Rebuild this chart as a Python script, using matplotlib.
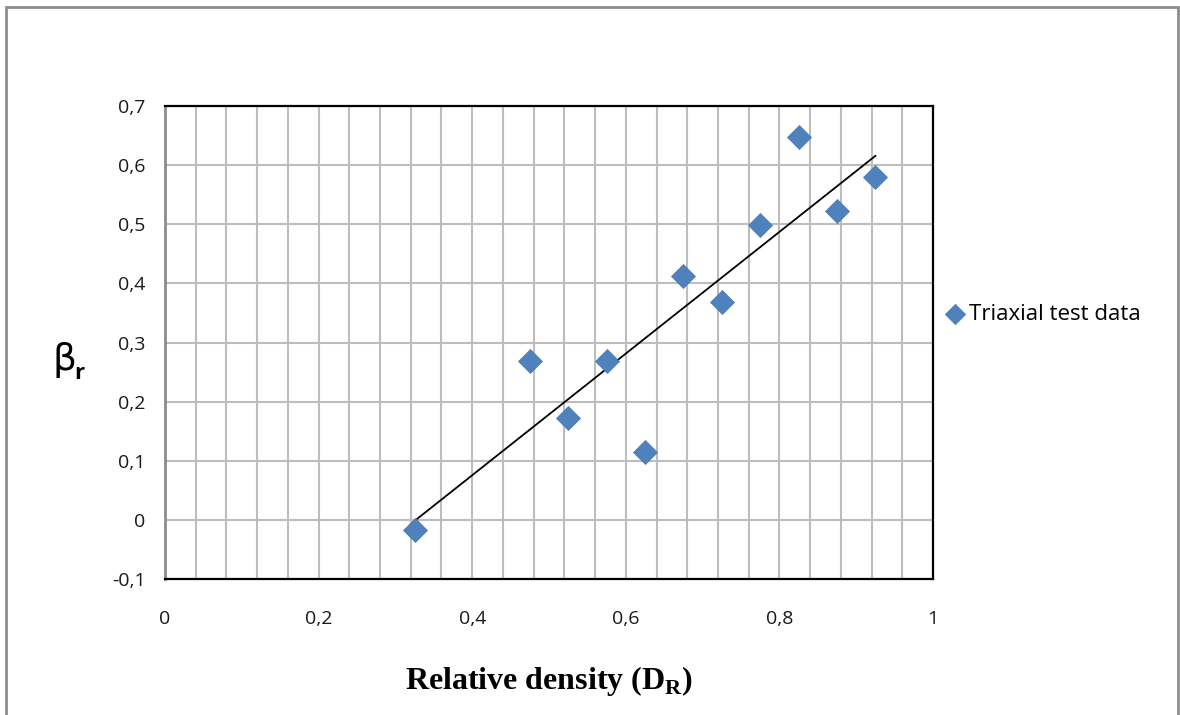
import numpy as np
import matplotlib
matplotlib.use("Agg")
import matplotlib.pyplot as plt
from matplotlib.patches import Rectangle
from matplotlib.ticker import FixedLocator

# Triaxial test results: relative density vs. beta_r
relative_density = [0.325, 0.475, 0.525, 0.575, 0.625, 0.675, 0.725, 0.775, 0.825, 0.875, 0.925]
beta_r = [-0.017, 0.269, 0.172, 0.269, 0.115, 0.413, 0.369, 0.499, 0.648, 0.523, 0.580]

x_ticks = [0, 0.2, 0.4, 0.6, 0.8, 1.0]
x_tick_labels = ["0", "0,2", "0,4", "0,6", "0,8", "1"]
y_ticks = [-0.1, 0, 0.1, 0.2, 0.3, 0.4, 0.5, 0.6, 0.7]
y_tick_labels = ["-0,1", "0", "0,1", "0,2", "0,3", "0,4", "0,5", "0,6", "0,7"]

label_font = "Open Sans"

fig = plt.figure(figsize=(11.8, 7.15), dpi=100)
ax = fig.add_axes([165 / 1180, 1 - 579 / 715, (933 - 165) / 1180, (579 - 106) / 715])

# Outer chart frame
fig.patches.append(Rectangle((6 / 1180, -0.01), (1178 - 6) / 1180, 1 - 7 / 715 + 0.01,
                             transform=fig.transFigure, fill=False,
                             edgecolor="#8c8c8c", linewidth=2))

ax.set_xlim(0, 1)
ax.set_ylim(-0.1, 0.7)

ax.xaxis.set_major_locator(FixedLocator(x_ticks))
ax.yaxis.set_major_locator(FixedLocator(y_ticks))
ax.set_xticklabels(x_tick_labels)
ax.set_yticklabels(y_tick_labels)

# Grid: horizontal lines every 0.1, vertical lines every 0.04
ax.grid(False)
for xv in np.arange(0.04, 0.999, 0.04):
    ax.axvline(xv, color="#bdbdbd", linewidth=1.5, zorder=0)
for yv in y_ticks[1:]:
    ax.axhline(yv, color="#bdbdbd", linewidth=1.5, zorder=0)

ax.tick_params(which="both", length=0, labelsize=14)
ax.tick_params(axis="y", pad=14)
ax.tick_params(axis="x", pad=22)
for lab in ax.get_xticklabels() + ax.get_yticklabels():
    lab.set_fontfamily(label_font)
    lab.set_color("#1a1a1a")

for side in ["top", "right", "bottom"]:
    ax.spines[side].set_color("black")
    ax.spines[side].set_linewidth(1.6)
ax.spines["left"].set_color("#8c8c8c")
ax.spines["left"].set_linewidth(2)

# Scatter points
ax.scatter(relative_density, beta_r, marker="D", s=150, color="#4f81bd",
           edgecolors="#4a7ab5", linewidths=0.5, zorder=3, clip_on=False,
           label="Triaxial test data")

# Linear trend line
slope, intercept = np.polyfit(relative_density, beta_r, 1)
xs = np.array([min(relative_density), max(relative_density)])
ax.plot(xs, slope * xs + intercept, color="black", linewidth=1.3, zorder=2)

leg = ax.legend(loc="center left", bbox_to_anchor=(1.0, 0.56), frameon=False,
                handletextpad=0.0, handlelength=1.2, borderaxespad=0.0,
                markerscale=0.85, prop={"family": label_font, "size": 16})

ax.set_xlabel("Relative density (D$_\\mathregular{R}$)", fontsize=23,
              fontfamily="Liberation Serif", fontweight="bold", labelpad=26)
fig.text(52 / 1180, 1 - 360 / 715, "β", fontsize=27, fontfamily="DejaVu Sans",
         ha="left", va="center")
fig.text(74 / 1180, 1 - 373 / 715, "r", fontsize=16, fontfamily=label_font,
         fontweight="bold", ha="left", va="center")

fig.savefig("out.png", dpi=100)
